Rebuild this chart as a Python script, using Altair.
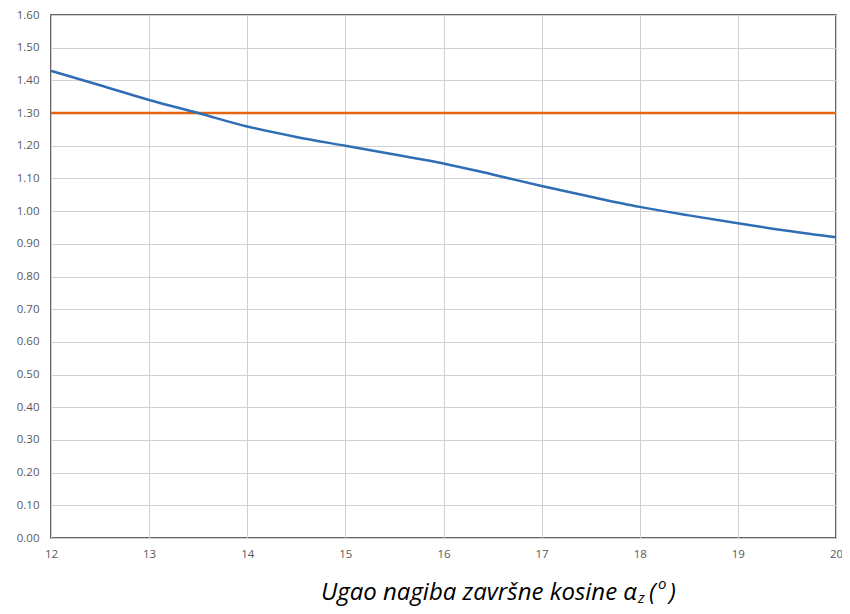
import altair as alt
import pandas as pd

angle = [12, 12.5, 13, 13.5, 14, 14.5, 15, 15.5, 16, 16.5, 17, 17.5, 18, 18.5, 19, 19.5, 20]
factor = [1.429, 1.385, 1.340, 1.300, 1.259, 1.227, 1.200, 1.173, 1.146, 1.112, 1.077, 1.044,
          1.013, 0.987, 0.963, 0.940, 0.920]
limit_x = [12, 20]
limit_y = [1.30, 1.30]
x_ticks = [12, 13, 14, 15, 16, 17, 18, 19, 20]
y_ticks = [round(i * 0.1, 2) for i in range(17)]

df_curve = pd.DataFrame({"x": angle, "y": factor, "s": "curve"})
df_limit = pd.DataFrame({"x": limit_x, "y": limit_y, "s": "limit"})

W, H = 785, 523

xs = alt.Scale(domain=[12, 20], nice=False, zero=False)
ys = alt.Scale(domain=[0, 1.6], nice=False, zero=True)

xax = alt.Axis(values=x_ticks, format="d", title=None, tickSize=0, labelPadding=10, labelFontSize=11.5,
               labelColor="#595959", labelFont="Open Sans", gridColor="#d0d0d0", domain=False,
               labelFlush=False, labelOverlap=False)
yax = alt.Axis(values=y_ticks, format=".2f", title=None, tickSize=0, labelPadding=12,
               labelFontSize=11.5, labelColor="#595959", labelFont="Open Sans",
               gridColor="#d0d0d0", domain=False, labelOverlap=False, tickCount=17)

X = alt.X("x:Q", scale=xs, axis=xax)
Y = alt.Y("y:Q", scale=ys, axis=yax)

limit = alt.Chart(df_limit).mark_line(color="#E4650C", strokeWidth=2.5).encode(x=X, y=Y)
curve = alt.Chart(df_curve).mark_line(color="#2F6EB5", strokeWidth=2.5, interpolate="monotone").encode(x=X, y=Y)

tf = dict(font="Open Sans", fontStyle="italic", color="#000000", baseline="alphabetic")
t_main = alt.Chart(pd.DataFrame({"t": ["Ugao nagiba završne kosine α"]})).mark_text(
    align="right", fontSize=24, **tf).encode(text="t:N", x=alt.value(586), y=alt.value(585))
t_sub = alt.Chart(pd.DataFrame({"t": ["z"]})).mark_text(
    align="left", fontSize=15, **tf).encode(text="t:N", x=alt.value(587), y=alt.value(588))
t_po = alt.Chart(pd.DataFrame({"t": ["("]})).mark_text(
    align="left", fontSize=24, **tf).encode(text="t:N", x=alt.value(598), y=alt.value(585))
t_sup = alt.Chart(pd.DataFrame({"t": ["o"]})).mark_text(
    align="left", fontSize=15, **tf).encode(text="t:N", x=alt.value(607), y=alt.value(574))
t_pc = alt.Chart(pd.DataFrame({"t": [")"]})).mark_text(
    align="left", fontSize=24, **tf).encode(text="t:N", x=alt.value(618), y=alt.value(585))

chart = alt.layer(limit, curve, t_main, t_sub, t_po, t_sup, t_pc).properties(
    width=W, height=H,
    autosize=alt.AutoSizeParams(type="none"),
    padding={"left": 43, "top": 7, "right": 6, "bottom": 68},
    background="white",
).configure_view(stroke="#333333", strokeWidth=1.5)

chart.save("out.html", embed_options={"renderer": "svg", "actions": False})
